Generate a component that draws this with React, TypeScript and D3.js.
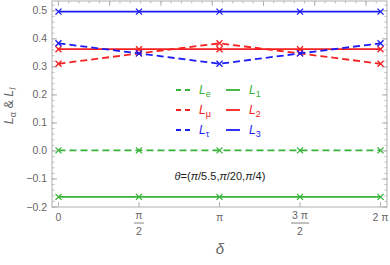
import React from "react";
import * as d3 from "d3";

const PI = Math.PI;
const deltas = [0, PI / 2, PI, (3 * PI) / 2, 2 * PI];
const Le = [0.002, 0.002, 0.002, 0.002, 0.002];
const Lmu = [0.311, 0.348, 0.384, 0.348, 0.311];
const Ltau = [0.384, 0.348, 0.311, 0.348, 0.384];
const L1 = [-0.164, -0.164, -0.164, -0.164, -0.164];
const L2 = [0.363, 0.363, 0.363, 0.363, 0.363];
const L3 = [0.497, 0.497, 0.497, 0.497, 0.497];

const yTicks = [-0.2, -0.1, 0.0, 0.1, 0.2, 0.3, 0.4, 0.5];
const xTickNum = ["", "\u03c0", "\u03c0", "3 \u03c0", ""];
const xTickDen = ["", "2", "", "2", ""];
const xTickPlain = ["0", "", "", "", "2 \u03c0"];

const GREEN = "#36b336";
const RED = "#f52020";
const BLUE = "#1c1cf5";
const FRAME = "#b0b0b0";
const LABEL = "#666";

const W = 390;
const H = 265;
const left = 52, right = 387, top = 1, bottom = 207;

export default function App() {
  const x = d3.scaleLinear().domain([-0.126, 2 * PI + 0.126]).range([left, right]);
  const y = d3.scaleLinear().domain([-0.2, 0.535]).range([bottom, top]);

  const line = d3.line<number>().x((_, i) => x(deltas[i])).y(d => y(d));

  const series = [
    { v: L1, c: GREEN, dash: "" },
    { v: L2, c: RED, dash: "" },
    { v: L3, c: BLUE, dash: "" },
    { v: Le, c: GREEN, dash: "7,4" },
    { v: Lmu, c: RED, dash: "7,4" },
    { v: Ltau, c: BLUE, dash: "7,4" },
  ];

  const yMinor = d3.range(-0.2, 0.5351, 0.02);
  const xTopMinor = d3.range(0, 2 * PI + 0.1, 0.2);
  const xTopMajor = d3.range(0, 7, 1);

  const legend = [
    { sub: "e", c: GREEN, dash: true, col: 0, row: 0 },
    { sub: "\u03bc", c: RED, dash: true, col: 0, row: 1 },
    { sub: "\u03c4", c: BLUE, dash: true, col: 0, row: 2 },
    { sub: "1", c: GREEN, dash: false, col: 1, row: 0 },
    { sub: "2", c: RED, dash: false, col: 1, row: 1 },
    { sub: "3", c: BLUE, dash: false, col: 1, row: 2 },
  ];

  return (
    <svg width={W} height={H} style={{ position: "absolute", left: 0, top: 0, fontFamily: "'Liberation Sans', Arial, sans-serif" }}>
      <rect x={0} y={0} width={W} height={H} fill="#fff" />
      {/* frame */}
      <rect x={left} y={top} width={right - left} height={bottom - top} fill="none" stroke={FRAME} strokeWidth={1} />
      {/* left / right ticks */}
      {yMinor.map((t, i) => (
        <g key={"ym" + i} stroke={FRAME} strokeWidth={0.8}>
          <line x1={left} x2={left + 2.5} y1={y(t)} y2={y(t)} />
          <line x1={right} x2={right - 2.5} y1={y(t)} y2={y(t)} />
        </g>
      ))}
      {yTicks.map((t, i) => (
        <g key={"yt" + i}>
          <line x1={left} x2={left + 5} y1={y(t)} y2={y(t)} stroke={FRAME} />
          <line x1={right} x2={right - 5} y1={y(t)} y2={y(t)} stroke={FRAME} />
          <text x={left - 5} y={y(t) + 3.5} textAnchor="end" fontSize={10.5} fill={LABEL}>
            {t < 0 ? "\u2212" + Math.abs(t).toFixed(1) : t.toFixed(1)}
          </text>
        </g>
      ))}
      {/* top ticks */}
      {xTopMinor.map((t, i) => (
        <line key={"xm" + i} x1={x(t)} x2={x(t)} y1={top} y2={top + 2.5} stroke={FRAME} strokeWidth={0.8} />
      ))}
      {xTopMajor.map((t, i) => (
        <line key={"xM" + i} x1={x(t)} x2={x(t)} y1={top} y2={top + 5} stroke={FRAME} />
      ))}
      {/* bottom ticks */}
      {deltas.map((d, i) => (
        <g key={"xb" + i} fill={LABEL} fontSize={10.5}>
          <line x1={x(d)} x2={x(d)} y1={bottom} y2={bottom - 5} stroke={FRAME} />
          {xTickPlain[i] && (
            <text x={x(d)} y={221} textAnchor="middle" fontStyle={i === 4 ? "normal" : "normal"}>
              {xTickPlain[i]}
            </text>
          )}
          {xTickDen[i] && (
            <>
              <text x={x(d)} y={219} textAnchor="middle">{xTickNum[i]}</text>
              <line x1={x(d) - (i === 3 ? 9 : 5)} x2={x(d) + (i === 3 ? 9 : 5)} y1={223} y2={223} stroke={LABEL} strokeWidth={0.8} />
              <text x={x(d)} y={235} textAnchor="middle">{xTickDen[i]}</text>
            </>
          )}
          {!xTickPlain[i] && !xTickDen[i] && (
            <text x={x(d)} y={221} textAnchor="middle">{xTickNum[i]}</text>
          )}
        </g>
      ))}
      {/* series */}
      {series.map((s, i) => (
        <g key={"s" + i}>
          <path d={line(s.v) || ""} fill="none" stroke={s.c} strokeWidth={1.8} strokeDasharray={s.dash || undefined} />
          {s.v.map((v, j) => {
            const cx = x(deltas[j]);
            const cy = y(v);
            return (
              <g key={j} stroke={s.c} strokeWidth={1.3}>
                <line x1={cx - 3} x2={cx + 3} y1={cy - 3} y2={cy + 3} />
                <line x1={cx - 3} x2={cx + 3} y1={cy + 3} y2={cy - 3} />
              </g>
            );
          })}
        </g>
      ))}
      {/* legend */}
      {legend.map((l, i) => {
        const lx = l.col === 0 ? 176 : 226;
        const tx = l.col === 0 ? 199 : 249;
        const ly = 90 + l.row * 20;
        return (
          <g key={"lg" + i}>
            <line x1={lx} x2={lx + 14} y1={ly} y2={ly} stroke={l.c} strokeWidth={1.8} strokeDasharray={l.dash ? "5,4" : undefined} />
            <text x={tx} y={ly + 4} fontSize={12} fill={l.c}>
              <tspan fontStyle="italic">L</tspan>
              <tspan fontSize={9} dy={3}>{l.sub}</tspan>
            </text>
          </g>
        );
      })}
      {/* annotation */}
      <text x={220} y={180} textAnchor="middle" fontSize={11} fill="#222">
        <tspan fontStyle="italic">{"\u03b8"}</tspan>
        {"=("}
        <tspan fontStyle="italic">{"\u03c0"}</tspan>
        {"/5.5,"}
        <tspan fontStyle="italic">{"\u03c0"}</tspan>
        {"/20,"}
        <tspan fontStyle="italic">{"\u03c0"}</tspan>
        {"/4)"}
      </text>
      {/* axis labels */}
      <text transform="translate(13,106) rotate(-90)" textAnchor="middle" fontSize={12.5} fill={LABEL}>
        <tspan fontStyle="italic">L</tspan>
        <tspan fontSize={9} dy={3}>{"\u03b1"}</tspan>
        <tspan dy={-3}>{" & "}</tspan>
        <tspan fontStyle="italic">L</tspan>
        <tspan fontSize={9} dy={3} fontStyle="italic">l</tspan>
      </text>
      <text x={220} y={254} textAnchor="middle" fontSize={15} fontStyle="italic" fill={LABEL}>
        {"\u03b4"}
      </text>
    </svg>
  );
}
